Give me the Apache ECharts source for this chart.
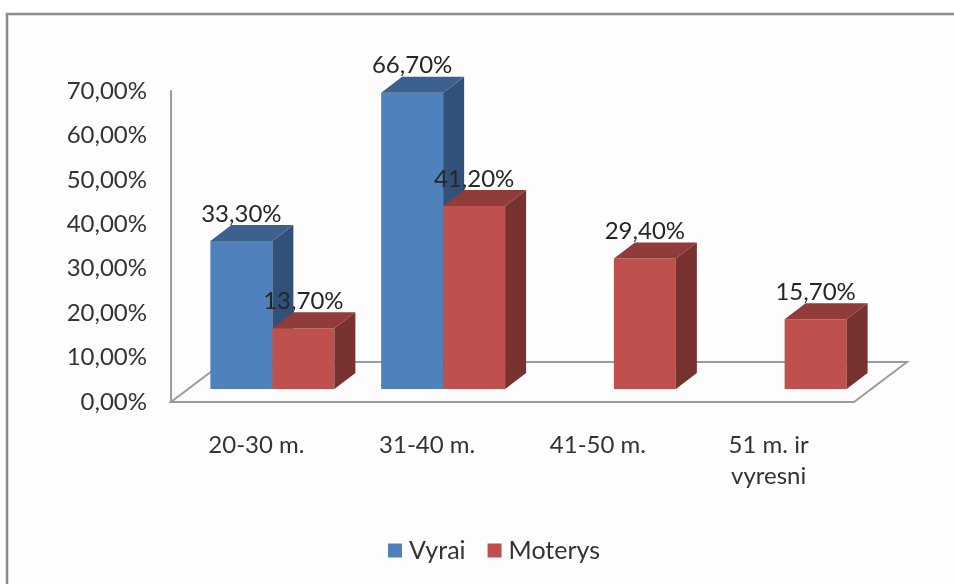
<!DOCTYPE html>
<html><head><meta charset="utf-8">
<script src="https://cdn.jsdelivr.net/npm/echarts@6/dist/echarts.min.js"></script>
<style>html,body{margin:0;padding:0;background:#fff}#c{width:954px;height:584px;filter:blur(0.5px)}</style>
</head><body><div id="c"></div>
<script>
const categories = ['20-30 m.', '31-40 m.', '41-50 m.', '51 m. ir\nvyresni'];
const vyrai = [33.3, 66.7, null, null];
const moterys = [13.7, 41.2, 29.4, 15.7];
const seriesNames = ['Vyrai', 'Moterys'];

const FONT = 'Lato';
const TEXT = '#333333';
const AXIS = '#9c9c9c';
const fmt = v => v.toFixed(2).replace('.', ',') + '%';

function barItem(side, colors) {
  return function (params, api) {
    const v = api.value(1);
    if (v == null || isNaN(v)) return null;
    const base = api.coord([api.value(0), 0]);
    const top = api.coord([api.value(0), v]);
    const w = api.size([1, 0])[0] * 0.363;
    const ox = 16, oy = -13, dx = 21, dy = -16;
    const x0 = base[0] + ox + (side < 0 ? -w : 0), x1 = x0 + w;
    const yB = base[1] + oy, yT = top[1] + oy;
    const poly = (pts, fill) => ({ type: 'polygon', shape: { points: pts }, style: { fill } });
    return { type: 'group', children: [
      poly([[x0, yB], [x1, yB], [x1, yT], [x0, yT]], colors[0]),
      poly([[x1, yB], [x1 + dx, yB + dy], [x1 + dx, yT + dy], [x1, yT]], colors[2]),
      poly([[x0, yT], [x1, yT], [x1 + dx, yT + dy], [x0 + dx, yT + dy]], colors[1]),
      { type: 'text', style: { text: fmt(v), x: (x0 + x1) / 2, y: yT - 27, align: 'center', verticalAlign: 'middle',
        font: '24px ' + FONT, fill: '#262626' } }
    ] };
  };
}

function floorItem(params) {
  const c = params.coordSys;
  const dx = 53, dy = -40, yF = c.y + c.height;
  return { type: 'polygon', shape: { points: [[c.x, yF], [c.x + c.width, yF], [c.x + c.width + dx, yF + dy], [c.x + dx, yF + dy]] },
    style: { fill: 'none', stroke: AXIS, lineWidth: 2 } };
}

const chart = echarts.init(document.getElementById('c'));
chart.setOption({
  animation: false,
  backgroundColor: '#fff',
  grid: { left: 171, right: 100, top: 91, bottom: 182 },
  legend: {
    data: seriesNames, left: 383, top: 533, icon: 'rect', itemWidth: 14, itemHeight: 14, itemGap: 22,
    textStyle: { fontFamily: FONT, fontSize: 25, color: TEXT, padding: [0, 0, 0, 2] }
  },
  xAxis: {
    type: 'category', data: categories, z: 3,
    axisLine: { lineStyle: { color: AXIS, width: 2 } }, axisTick: { show: false },
    axisLabel: { fontFamily: FONT, fontSize: 24, color: TEXT, margin: 28, lineHeight: 31, interval: 0 }
  },
  yAxis: {
    type: 'value', min: 0, max: 70, interval: 10, splitLine: { show: false },
    axisLine: { show: true, lineStyle: { color: AXIS, width: 2 } }, axisTick: { show: false },
    axisLabel: { fontFamily: FONT, fontSize: 24, color: TEXT, margin: 24, formatter: fmt }
  },
  graphic: [{ type: 'rect', z: -1, silent: true, shape: { x: 7, y: 14, width: 960, height: 600 }, style: { fill: '#fdfdfd', stroke: '#8c8c8c', lineWidth: 2.5 } }],
  series: [
    { type: 'custom', name: 'floor', silent: true, renderItem: floorItem, data: [[0, 0]], encode: { x: 0, y: 1 }, z: 1 },
    { type: 'custom', name: seriesNames[0], renderItem: barItem(-1, ['#4f81bd', '#3c618f', '#325178']), itemStyle: { color: '#4f81bd' },
      data: vyrai.map((v, i) => [i, v]), encode: { x: 0, y: 1 }, z: 4 },
    { type: 'custom', name: seriesNames[1], renderItem: barItem(1, ['#c0504d', '#8f3c3a', '#77312f']), itemStyle: { color: '#c0504d' },
      data: moterys.map((v, i) => [i, v]), encode: { x: 0, y: 1 }, z: 5 }
  ]
});
</script></body></html>
